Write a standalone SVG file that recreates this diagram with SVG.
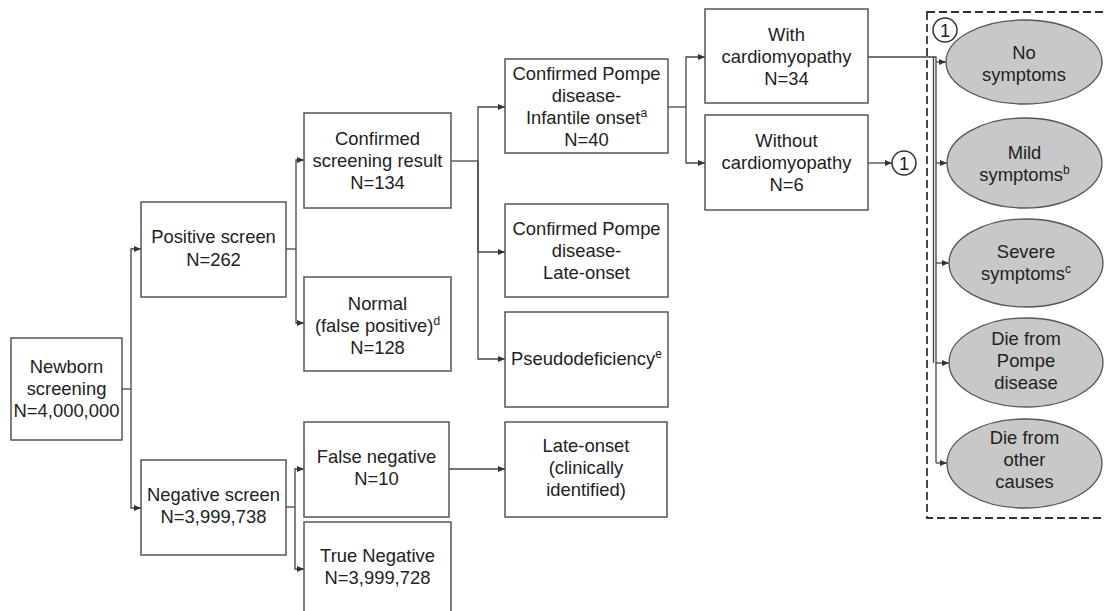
<svg xmlns="http://www.w3.org/2000/svg" width="1105" height="611" viewBox="0 0 1105 611">
<defs>
<marker id="ah" markerUnits="userSpaceOnUse" markerWidth="8" markerHeight="8" refX="7" refY="4" orient="auto">
<path d="M0,1 L7,4 L0,7 Z" fill="#333"/>
</marker>
<style>
.box{fill:#fff;stroke:#555;stroke-width:1.5}
.ell{fill:#c8c8c8;stroke:#555;stroke-width:1.3}
.t{font-family:"Liberation Sans",Arial,sans-serif;font-size:18.4px;fill:#222;text-anchor:middle}
.c{fill:none;stroke:#444;stroke-width:1.3}
.a{fill:none;stroke:#444;stroke-width:1.3;marker-end:url(#ah)}
.sup{font-size:12px}
.circ{fill:#fff;stroke:#333;stroke-width:1.5}
</style>
</defs>
<rect x="0" y="0" width="1105" height="611" fill="#fff"/>

<g id="connectors">
<path class="c" d="M122,389 H131"/>
<path class="a" d="M131,389 V249 H141"/>
<path class="a" d="M131,389 V508 H141"/>
<path class="c" d="M286,249 H296"/>
<path class="a" d="M296,249 V160 H304"/>
<path class="a" d="M296,249 V323 H304"/>
<path class="c" d="M286,507 H295"/>
<path class="a" d="M295,507 V469 H304"/>
<path class="a" d="M295,507 V569 H304"/>
<path class="c" d="M451,161 H478"/>
<path class="a" d="M478,161 V107 H505"/>
<path class="a" d="M478,161 V252 H505"/>
<path class="a" d="M478,161 V359 H505"/>
<path class="c" d="M668,107 H686"/>
<path class="a" d="M686,107 V57 H705"/>
<path class="a" d="M686,107 V163 H705"/>
<path class="a" d="M868,163 H892"/>
<path class="a" d="M449,469 H505"/>
<path class="c" d="M868,57 H936 V463"/>
<path class="c" d="M933.5,57 V363"/>
<path class="a" d="M936,62 H946"/>
<path class="a" d="M936,163 H947"/>
<path class="a" d="M936,263 H949"/>
<path class="a" d="M936,363 H949"/>
<path class="a" d="M936,463 H947"/>
</g>

<g id="group-box">
<rect x="927" y="12" width="200" height="506" fill="none" stroke="#333" stroke-width="1.8" stroke-dasharray="8 4"/>
</g>

<g id="newborn">
<rect class="box" x="11" y="338" width="111" height="102"/>
<text class="t" x="66.5" y="373">Newborn</text>
<text class="t" x="66.5" y="395">screening</text>
<text class="t" x="66.5" y="417">N=4,000,000</text>
</g>

<g id="positive">
<rect class="box" x="141" y="202" width="145" height="95"/>
<text class="t" x="213.5" y="243">Positive screen</text>
<text class="t" x="213.5" y="266">N=262</text>
</g>

<g id="negative">
<rect class="box" x="141" y="460" width="145" height="95"/>
<text class="t" x="213.5" y="501">Negative screen</text>
<text class="t" x="213.5" y="523">N=3,999,738</text>
</g>

<g id="confirmed">
<rect class="box" x="304" y="113" width="147" height="95"/>
<text class="t" x="377.5" y="145">Confirmed</text>
<text class="t" x="377.5" y="167">screening result</text>
<text class="t" x="377.5" y="189">N=134</text>
</g>

<g id="normal">
<rect class="box" x="304" y="277" width="147" height="94"/>
<text class="t" x="377.5" y="310">Normal</text>
<text class="t" x="377.5" y="332">(false positive)<tspan class="sup" dy="-7">d</tspan></text>
<text class="t" x="377.5" y="354">N=128</text>
</g>

<g id="false-negative">
<rect class="box" x="304" y="422" width="145" height="95"/>
<text class="t" x="376.5" y="463">False negative</text>
<text class="t" x="376.5" y="485">N=10</text>
</g>

<g id="true-negative">
<rect class="box" x="304" y="522" width="147" height="100"/>
<text class="t" x="377.5" y="562">True Negative</text>
<text class="t" x="377.5" y="584">N=3,999,728</text>
</g>

<g id="infantile">
<rect class="box" x="505" y="59" width="163" height="94"/>
<text class="t" x="586.5" y="79.5">Confirmed Pompe</text>
<text class="t" x="586.5" y="101.5">disease-</text>
<text class="t" x="586.5" y="123.5">Infantile onset<tspan class="sup" dy="-7">a</tspan></text>
<text class="t" x="586.5" y="145.5">N=40</text>
</g>

<g id="late-onset-pompe">
<rect class="box" x="505" y="204" width="163" height="93"/>
<text class="t" x="586.5" y="235">Confirmed Pompe</text>
<text class="t" x="586.5" y="257">disease-</text>
<text class="t" x="586.5" y="279">Late-onset</text>
</g>

<g id="pseudodeficiency">
<rect class="box" x="505" y="312" width="163" height="95"/>
<text class="t" x="586.5" y="365">Pseudodeficiency<tspan class="sup" dy="-7">e</tspan></text>
</g>

<g id="late-onset-clinical">
<rect class="box" x="505" y="422" width="162" height="95"/>
<text class="t" x="586" y="452">Late-onset</text>
<text class="t" x="586" y="474">(clinically</text>
<text class="t" x="586" y="496">identified)</text>
</g>

<g id="with-cardio">
<rect class="box" x="705" y="9" width="163" height="94"/>
<text class="t" x="786.5" y="41">With</text>
<text class="t" x="786.5" y="63">cardiomyopathy</text>
<text class="t" x="786.5" y="85">N=34</text>
</g>

<g id="without-cardio">
<rect class="box" x="705" y="115" width="163" height="95"/>
<text class="t" x="786.5" y="147">Without</text>
<text class="t" x="786.5" y="169">cardiomyopathy</text>
<text class="t" x="786.5" y="191">N=6</text>
</g>

<g id="connector-1-out">
<circle class="circ" cx="904" cy="163" r="12"/>
<text class="t" x="904" y="169.5">1</text>
</g>

<g id="connector-1-in">
<circle class="circ" cx="945" cy="30" r="12"/>
<text class="t" x="945" y="36.5">1</text>
</g>

<g id="no-symptoms">
<ellipse class="ell" cx="1024" cy="62" rx="78" ry="42"/>
<text class="t" x="1024" y="59">No</text>
<text class="t" x="1024" y="81">symptoms</text>
</g>

<g id="mild">
<ellipse class="ell" cx="1024.5" cy="163" rx="77.5" ry="45"/>
<text class="t" x="1024.5" y="159">Mild</text>
<text class="t" x="1024.5" y="181">symptoms<tspan class="sup" dy="-7">b</tspan></text>
</g>

<g id="severe">
<ellipse class="ell" cx="1026" cy="263" rx="77" ry="44"/>
<text class="t" x="1026" y="258">Severe</text>
<text class="t" x="1026" y="280">symptoms<tspan class="sup" dy="-7">c</tspan></text>
</g>

<g id="die-pompe">
<ellipse class="ell" cx="1026" cy="362.5" rx="77" ry="44.5"/>
<text class="t" x="1026" y="345">Die from</text>
<text class="t" x="1026" y="367">Pompe</text>
<text class="t" x="1026" y="389">disease</text>
</g>

<g id="die-other">
<ellipse class="ell" cx="1024.5" cy="463.5" rx="77.5" ry="44.5"/>
<text class="t" x="1024.5" y="444">Die from</text>
<text class="t" x="1024.5" y="466">other</text>
<text class="t" x="1024.5" y="488">causes</text>
</g>
</svg>
